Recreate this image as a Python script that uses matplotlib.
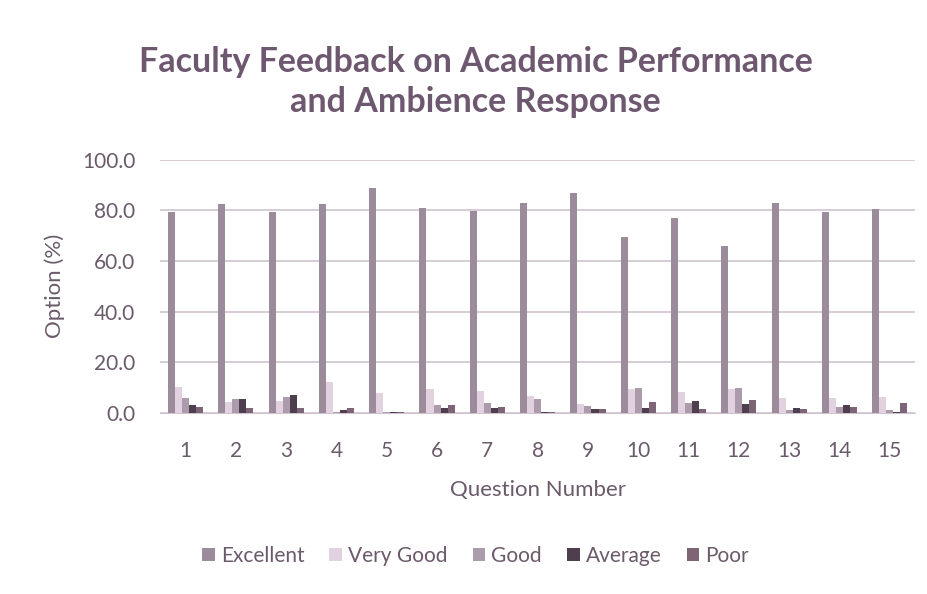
import matplotlib.pyplot as plt
import numpy as np

plt.rcParams['font.family'] = ['Lato', 'DejaVu Sans']

questions = [str(i) for i in range(1, 16)]
excellent = [79.4, 82.5, 79.4, 82.5, 88.9, 81.0, 79.8, 83.0, 87.0, 69.6, 77.0, 66.0, 83.0, 79.5, 80.6]
very_good = [10.3, 4.3, 4.5, 12.2, 8.0, 9.5, 8.7, 6.7, 3.6, 9.5, 8.3, 9.5, 5.9, 5.9, 6.3]
good = [5.9, 5.5, 6.3, 0.3, 0.5, 3.0, 4.0, 5.5, 2.8, 10.0, 4.0, 10.0, 1.0, 2.5, 1.0]
average = [3.2, 5.5, 7.1, 1.0, 0.5, 2.0, 2.0, 0.5, 1.5, 2.0, 4.5, 3.5, 2.0, 3.0, 0.5]
poor = [2.5, 2.0, 2.0, 2.0, 0.2, 3.0, 2.5, 0.3, 1.5, 4.3, 1.5, 5.0, 1.5, 2.5, 3.8]

series = [
    ("Excellent", excellent, "#9b8b9b"),
    ("Very Good", very_good, "#e2d2e0"),
    ("Good", good, "#ab9bab"),
    ("Average", average, "#4e3e4e"),
    ("Poor", poor, "#7d6575"),
]

fig = plt.figure(figsize=(9.27, 5.94), dpi=100)
ax = fig.add_axes([0.173, 0.305, 0.814, 0.426])

x = np.arange(len(questions))
w = 0.14
for i, (name, vals, col) in enumerate(series):
    ax.bar(x + (i - 2) * w, vals, width=w, color=col, label=name, zorder=3)

ax.set_ylim(0, 100)
ax.set_xlim(-0.5, len(questions) - 0.5)
ax.set_yticks(np.arange(0, 101, 20))
ax.set_yticklabels([f"{v:.1f}" for v in np.arange(0, 101, 20)])
ax.set_xticks(x)
ax.set_xticklabels(questions)
ax.grid(axis='y', color='#cfc4cf', linewidth=1.2, zorder=0)
for s in ['top', 'right', 'left']:
    ax.spines[s].set_visible(False)
ax.spines['bottom'].set_color('#cfc4cf')
ax.tick_params(axis='both', length=0, labelsize=15, colors='#6a5a6a')
ax.tick_params(axis='x', pad=20)
ax.tick_params(axis='y', pad=18)

ax.set_xlabel("Question Number", fontsize=16, color='#6a5a6a', labelpad=14)
ax.set_ylabel("Option (%)", fontsize=16, color='#6a5a6a', labelpad=12)

fig.text(0.513, 0.862, "Faculty Feedback on Academic Performance\nand Ambience Response",
         ha='center', va='center', fontsize=24.5, fontweight='bold', color='#6e5870',
         linespacing=1.3)

fig.legend(loc='center', bbox_to_anchor=(0.513, 0.064), ncol=5, frameon=False,
           fontsize=15, handlelength=0.6, handleheight=0.6, columnspacing=1.2,
           handletextpad=0.3, labelcolor='#6a5a6a')

fig.savefig("out.png", dpi=100)
